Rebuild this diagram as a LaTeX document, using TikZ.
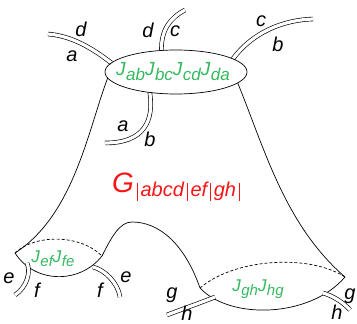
\documentclass[tikz,border=0pt]{standalone}
\usepackage{fontspec}
\setmainfont{Liberation Sans}
\usetikzlibrary{shapes.geometric}
\definecolor{jgreen}{RGB}{52,185,95}
\definecolor{gred}{RGB}{250,20,20}
\newcommand{\Jx}[1]{J\kern0.5pt{\fontsize{17}{17}\selectfont\raisebox{-5pt}{#1}}}
\newcommand{\Jy}[1]{J\kern0.5pt{\fontsize{15}{15}\selectfont\raisebox{-4pt}{#1}}}
\newcommand{\gbar}{\kern3pt\rule[-4pt]{0.6pt}{18pt}\kern3pt}
\begin{document}
\begin{tikzpicture}[x=1pt,y=-1pt,
  strand/.style={double, double distance=3.2pt, line width=0.65pt},
  outline/.style={line width=0.7pt},
  lbl/.style={font=\fontsize{20}{20}\selectfont\itshape, inner sep=0pt},
  jtxt/.style={text=jgreen, font=\fontsize{19}{19}\selectfont\itshape, inner sep=0pt},
  jtxts/.style={text=jgreen, font=\fontsize{17}{17}\selectfont\itshape, inner sep=0pt}]
\useasboundingbox (0,0) rectangle (357,324);
% strands of the top ellipse
\coordinate (E) at (176,72);
\node[ellipse, minimum width=142pt, minimum height=44pt, inner sep=0pt, outer sep=0pt] (Eb) at (E) {};
\coordinate (tl) at (48,34);
\coordinate (tm) at (185,10);
\coordinate (tr) at (313,19);
\coordinate (bm) at (105,143);
\draw[strand] (Eb.172) .. controls (92,48) and (72,36) .. (tl);
\draw[strand] (Eb.124) .. controls (161,30) and (170,18) .. (tm);
\draw[strand] (Eb.13) .. controls (252,33) and (282,20) .. (tr);
\draw[strand] (Eb.218) .. controls (154,120) and (145,143) .. (bm);
\node[draw, ellipse, line width=0.7pt, minimum width=142pt, minimum height=44pt, inner sep=0pt, outer sep=0pt] (top) at (E) {};
\node[jtxt] (jtop) at (173,72) {\Jx{ab}\Jx{bc}\Jx{cd}\Jx{da}};
% lenses
\coordinate (efL) at (15,253);
\coordinate (efR) at (102,256);
\coordinate (ghL) at (200,288);
\coordinate (ghR) at (345,277);
\draw[outline] (efL) .. controls (35,284) and (80,284) .. (efR);
\draw[outline, dashed, dash pattern=on 3pt off 2pt] (efL) .. controls (35,234) and (80,234) .. (efR);
\draw[outline] (ghL) .. controls (230,320) and (310,318) .. (ghR);
\draw[outline, dashed, dash pattern=on 3pt off 2pt] (ghL) .. controls (235,258) and (310,254) .. (ghR);
\node[jtxts] (jef) at (53,259) {\Jy{ef}\Jy{fe}};
\node[jtxts] (jgh) at (258,289) {\Jy{gh}\Jy{hg}};
% outline of the surface
\draw[outline] (top.185) .. controls (88,130) and (74,215) .. (efL);
\draw[outline] (top.350) .. controls (265,150) and (285,225) .. (ghR);
\draw[outline] (efR) .. controls (112,236) and (120,222) .. (132,222)
  .. controls (160,222) and (185,245) .. (ghL);
% lens strands
\coordinate (e1a) at (27,263);
\coordinate (e1b) at (15,295);
\coordinate (e2a) at (93,267);
\coordinate (e2b) at (120,297);
\coordinate (g1a) at (215,297);
\coordinate (g1b) at (167,315);
\coordinate (g2a) at (323,293);
\coordinate (g2b) at (350,310);
\draw[strand] (e1a) .. controls (31,272) and (27,287) .. (e1b);
\draw[strand] (e2a) .. controls (105,270) and (118,283) .. (e2b);
\draw[strand] (g1a) .. controls (200,303) and (180,310) .. (g1b);
\draw[strand] (g2a) .. controls (333,296) and (343,302) .. (g2b);
% labels
\node[lbl] (l1) at (81,29) {d};
\node[lbl] (l2) at (72,56) {a};
\node[lbl] (l3) at (148,30) {d};
\node[lbl] (l4) at (175,31) {c};
\node[lbl] (l5) at (261,21) {c};
\node[lbl] (l6) at (278,44) {b};
\node[lbl] (l7) at (123,126) {a};
\node[lbl] (l8) at (150,139) {b};
\node[lbl] (l9) at (9,278) {e};
\node[lbl] (l10) at (37,290) {f};
\node[lbl] (l11) at (100,290) {f};
\node[lbl] (l12) at (126,277) {e};
\node[lbl] (l13) at (172,295) {g};
\node[lbl] (l14) at (187,313) {h};
\node[lbl] (l15) at (350,296) {g};
\node[lbl] (l16) at (337,312) {h};
% G label
\node[text=gred, inner sep=0pt, anchor=base west] (G) at (112,192)
  {{\fontsize{28}{28}\selectfont\itshape G}\kern0pt\raisebox{-5pt}{\fontsize{20}{20}\selectfont\itshape
   \gbar abcd\gbar ef\gbar gh\gbar}};
\end{tikzpicture}
\end{document}
